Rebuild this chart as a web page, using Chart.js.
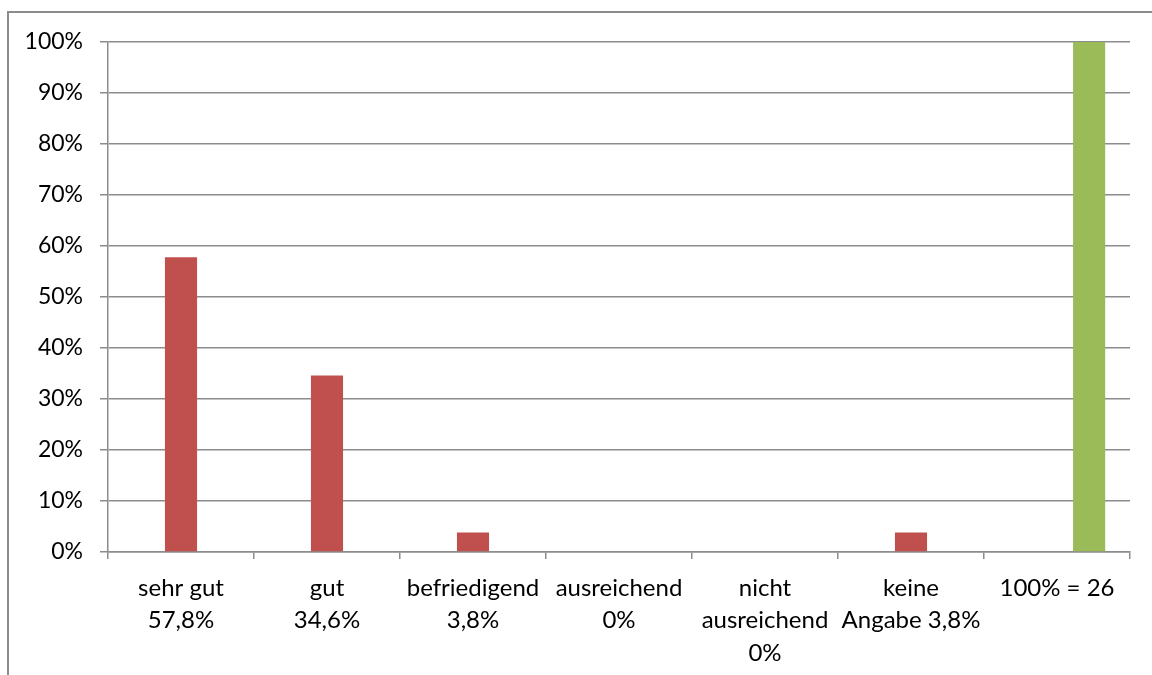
<!DOCTYPE html>
<html>
<head>
<meta charset="utf-8">
<script src="https://cdn.jsdelivr.net/npm/chart.js@4/dist/chart.umd.min.js"></script>
<style>
  html, body { margin: 0; padding: 0; background: #fff; }
  #wrap { width: 1152px; height: 675px; position: relative; }
</style>
</head>
<body>
<div id="wrap"><canvas id="chart"></canvas></div>
<script>
// data
const categories = [
  ['sehr gut', '57,8%'],
  ['gut', '34,6%'],
  ['befriedigend', '3,8%'],
  ['ausreichend', '0%'],
  ['nicht', 'ausreichend', '0%'],
  ['keine', 'Angabe 3,8%'],
  ['100% = 26']
]
const grades = [57.8, 34.6, 3.8, 0, 0, 3.8, null]
const total = [null, null, null, null, null, null, 100]
const yTicks = [0, 10, 20, 30, 40, 50, 60, 70, 80, 90, 100]

const red = '#C0504D'
const green = '#9BBB59'
const gray = '#8c8c8c'
// in the original the total bar sits one bar width right of its slot centre
const totalShift = 0.22

// excel style outer frame (only left + top are visible)
const framePlugin = {
  id: 'frame',
  beforeDraw(chart) {
    const ctx = chart.ctx
    ctx.save()
    ctx.strokeStyle = gray
    ctx.lineWidth = 2
    ctx.beginPath()
    ctx.moveTo(8, 675)
    ctx.lineTo(8, 12)
    ctx.lineTo(1152, 12)
    ctx.stroke()
    ctx.restore()
  }
}

Chart.defaults.font.family = 'Lato, Carlito, "Open Sans", sans-serif'
Chart.defaults.color = '#000'

const ctx = document.getElementById('chart').getContext('2d')
new Chart(ctx, {
  type: 'bar',
  data: {
    labels: categories,
    datasets: [{
      data: grades,
      backgroundColor: red,
      borderWidth: 0,
      grouped: false,
      categoryPercentage: 1,
      barPercentage: 0.22
    }, {
      data: total,
      xAxisID: 'x2',
      backgroundColor: green,
      borderWidth: 0,
      grouped: false,
      categoryPercentage: 1,
      barPercentage: 0.22
    }]
  },
  options: {
    responsive: true,
    maintainAspectRatio: false,
    animation: false,
    layout: { padding: { left: 0, top: 42, right: 22, bottom: 0 } },
    plugins: {
      legend: { display: false },
      tooltip: { enabled: false }
    },
    scales: {
      x: {
        grid: {
          offset: true,
          drawOnChartArea: false,
          color: gray,
          tickLength: 7,
          lineWidth: 1.5
        },
        border: { color: gray, width: 1.5 },
        ticks: {
          font: { size: 24, lineHeight: 1.35 },
          padding: 13,
          maxRotation: 0,
          autoSkip: false
        },
        afterFit(scale) { scale.height = 123 }
      },
      x2: {
        type: 'category',
        display: false,
        offset: true,
        afterBuildTicks(scale) { scale._startValue -= totalShift }
      },
      y: {
        min: 0,
        max: 100,
        afterBuildTicks(scale) { scale.ticks = yTicks.map(v => ({ value: v })) },
        grid: { color: gray, tickLength: 8, lineWidth: 1.5 },
        border: { color: gray, width: 1.5 },
        ticks: {
          font: { size: 23 },
          padding: 17,
          callback: v => v + '%'
        },
        afterFit(scale) { scale.width = 108 }
      }
    }
  },
  plugins: [framePlugin]
})
</script>
</body>
</html>
